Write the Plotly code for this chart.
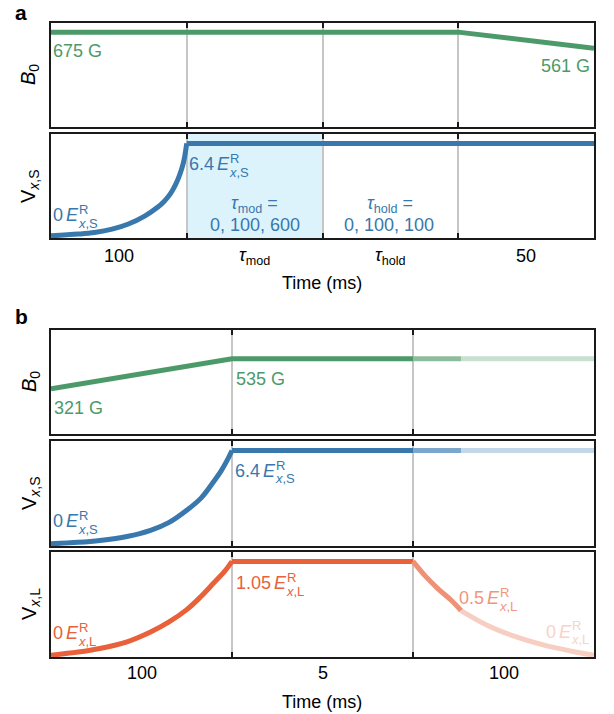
import plotly.graph_objects as go

# ---------------- data ----------------
a_seg_labels = ["100", "<i>τ</i><sub>mod</sub>", "<i>τ</i><sub>hold</sub>", "50"]
b_seg_labels = ["100", "5", "100"]

# panel a
a_b0_x = [0, 1, 2, 3, 4]
a_b0_y = [675, 675, 675, 675, 561]
a_vs_rise_x = [0, 0.2, 0.32, 0.45, 0.57, 0.69, 0.79, 0.833, 0.86, 0.89, 0.92, 0.94, 0.96, 0.975, 0.985, 1.0]
a_vs_rise_y = [0, 0.12, 0.23, 0.46, 0.82, 1.37, 2.01, 2.38, 2.67, 3.07, 3.6, 4.03, 4.56, 5.05, 5.5, 6.4]
a_vs_hold_x = [1, 2, 3, 4]
a_vs_hold_y = [6.4, 6.4, 6.4, 6.4]

# panel b
b_b0_x = [0, 1, 2]
b_b0_y = [321, 535, 535]
b_b0_mid_x = [2, 2.265]
b_b0_mid_y = [535, 535]
b_b0_late_x = [2.265, 3]
b_b0_late_y = [535, 535]

b_vs_rise_x = [0, 0.15, 0.27, 0.42, 0.55, 0.65, 0.75, 0.83, 0.895, 0.94, 0.97, 1.0]
b_vs_rise_y = [0, 0.1, 0.23, 0.5, 0.92, 1.45, 2.3, 3.15, 4.2, 5.0, 5.65, 6.4]
b_vs_hold_x = [1, 2]
b_vs_hold_y = [6.4, 6.4]
b_vs_mid_x = [2, 2.265]
b_vs_mid_y = [6.4, 6.4]
b_vs_late_x = [2.265, 3]
b_vs_late_y = [6.4, 6.4]

b_vl_rise_x = [0, 0.15, 0.27, 0.42, 0.55, 0.65, 0.75, 0.83, 0.9, 0.96, 1.0]
b_vl_rise_y = [0, 0.035, 0.075, 0.15, 0.26, 0.37, 0.51, 0.66, 0.81, 0.94, 1.05]
b_vl_hold_x = [1, 2]
b_vl_hold_y = [1.05, 1.05]
b_vl_mid_x = [2, 2.066, 2.14, 2.214, 2.265]
b_vl_mid_y = [1.05, 0.89, 0.74, 0.61, 0.50]
b_vl_late_x = [2.265, 2.415, 2.563, 2.729, 2.876, 3.0]
b_vl_late_y = [0.50, 0.33, 0.21, 0.11, 0.045, 0.0]

# ---------------- style ----------------
W, H = 614, 714
FONT = "Liberation Sans, Arial, Helvetica, sans-serif"
GREEN, GREEN_M, GREEN_L = "#4c9a69", "#8dbd9c", "#c8e0cf"
BLUE, BLUE_M, BLUE_L = "#3878ad", "#7aa7cb", "#c2d7e8"
ORANGE, ORANGE_M, ORANGE_L = "#e8613a", "#ee9176", "#f7cfc2"
ORANGE_TXT_M, ORANGE_TXT_L = "#ef967b", "#f8d3c6"
SHADE = "#ddf3fc"
LW = 5

def py(p):
    return 1 - p / H

def px(p):
    return p / W

X0, X1 = 51, 594
boxes = {  # (top, bottom) pixel
    1: (23, 127),
    2: (134, 238),
    3: (330, 434),
    4: (441, 546),
    5: (552, 657),
}
yranges = {1: [0, 740], 2: [-0.15, 7.05], 3: [0, 740], 4: [-0.15, 7.05], 5: [-0.02, 1.155]}
xranges = {1: [0, 4], 2: [0, 4], 3: [0, 3], 4: [0, 3], 5: [0, 3]}

fig = go.Figure()

def add(i, x, y, color, curve=False):
    line = dict(color=color, width=LW)
    if curve:
        line.update(shape="spline", smoothing=1.0)
    fig.add_trace(go.Scatter(
        x=x, y=y, mode="lines", line=line,
        xaxis="x" if i == 1 else f"x{i}", yaxis="y" if i == 1 else f"y{i}",
        showlegend=False, hoverinfo="skip"))

add(1, a_b0_x, a_b0_y, GREEN)
add(2, a_vs_rise_x, a_vs_rise_y, BLUE, curve=True)
add(2, a_vs_hold_x, a_vs_hold_y, BLUE)

add(3, b_b0_x, b_b0_y, GREEN)
add(3, b_b0_late_x, b_b0_late_y, GREEN_L)
add(3, b_b0_mid_x, b_b0_mid_y, GREEN_M)

add(4, b_vs_rise_x, b_vs_rise_y, BLUE, curve=True)
add(4, b_vs_hold_x, b_vs_hold_y, BLUE)
add(4, b_vs_late_x, b_vs_late_y, BLUE_L)
add(4, b_vs_mid_x, b_vs_mid_y, BLUE_M)

add(5, b_vl_rise_x, b_vl_rise_y, ORANGE, curve=True)
add(5, b_vl_hold_x, b_vl_hold_y, ORANGE)
add(5, b_vl_late_x, b_vl_late_y, ORANGE_L, curve=True)
add(5, b_vl_mid_x, b_vl_mid_y, ORANGE_M, curve=True)

layout = dict(
    width=W, height=H, margin=dict(l=0, r=0, t=0, b=0),
    paper_bgcolor="white", plot_bgcolor="white",
    font=dict(family=FONT, size=18, color="black"),
    showlegend=False,
)
for i in range(1, 6):
    top, bot = boxes[i]
    xa = "xaxis" if i == 1 else f"xaxis{i}"
    ya = "yaxis" if i == 1 else f"yaxis{i}"
    nseg = xranges[i][1]
    layout[xa] = dict(
        domain=[px(X0), px(X1)], range=xranges[i], anchor="y" if i == 1 else f"y{i}",
        tickvals=list(range(1, nseg)), showticklabels=False,
        ticks="inside", ticklen=5, tickwidth=1.8, tickcolor="#1a1a1a",
        showgrid=True, gridcolor="#c6c6c6", gridwidth=1.6, zeroline=False,
        showline=True, linecolor="#1a1a1a", linewidth=2, mirror="ticks", fixedrange=True)
    layout[ya] = dict(
        domain=[py(bot), py(top)], range=yranges[i], anchor="x" if i == 1 else f"x{i}",
        showticklabels=False, ticks="", showgrid=False, zeroline=False,
        showline=True, linecolor="#1a1a1a", linewidth=2, mirror=True, fixedrange=True)
fig.update_layout(**layout)

# shading for tau_mod
fig.add_shape(type="rect", xref="x2", yref="y2 domain", x0=1, x1=2, y0=0, y1=1,
              fillcolor=SHADE, line=dict(width=0), layer="below")

ann = []

def text(xp, yp, s, color="black", size=18, xanchor="left", angle=0, bold=False):
    if bold:
        s = f"<b>{s}</b>"
    ann.append(dict(x=px(xp), y=py(yp), xref="paper", yref="paper", text=s, showarrow=False,
                    xanchor=xanchor, yanchor="middle", textangle=angle,
                    font=dict(family=FONT, size=size, color=color), borderpad=0, borderwidth=0))

ADV = {"0": .556, "1": .556, "2": .556, "3": .556, "4": .556, "5": .556, "6": .556,
       "7": .556, "8": .556, "9": .556, ".": .278, " ": .278}

def elabel(xp, yp, num, sub, color):
    wn = sum(ADV[c] for c in num) * 18
    text(xp, yp, num, color)
    xe = xp + wn + 2.5
    text(xe, yp, "<i>E</i>", color)
    text(xe + 13.5, yp - 6, "R", color, size=13)
    text(xe + 12.0, yp + 8, f"<i>x</i>,{sub}", color, size=13)

# panel a
text(53, 51, "675 G", GREEN)
text(590, 66, "561 G", GREEN, xanchor="right")
elabel(53, 215, "0", "S", BLUE)
elabel(189, 164, "6.4", "S", BLUE)
text(254, 204, "<i>τ</i><sub>mod</sub> =", BLUE, xanchor="center")
text(254.5, 225, "0, 100, 600", BLUE, xanchor="center")
text(390, 204, "<i>τ</i><sub>hold</sub> =", BLUE, xanchor="center")
text(389, 225, "0, 100, 100", BLUE, xanchor="center")

# panel b
text(54, 408, "321 G", GREEN)
text(236, 379, "535 G", GREEN)
elabel(53, 521, "0", "S", BLUE)
elabel(235, 471, "6.4", "S", BLUE)
elabel(53, 633, "0", "L", ORANGE)
elabel(236, 583, "1.05", "L", ORANGE)
elabel(459, 598, "0.5", "L", ORANGE_TXT_M)
elabel(546, 631.5, "0", "L", ORANGE_TXT_L)

# segment tick labels
segw_a = (X1 - X0) / 4
for k, s in enumerate(a_seg_labels):
    text(X0 + segw_a * (k + 0.5), 256, s, xanchor="center")
segw_b = (X1 - X0) / 3
for k, s in enumerate(b_seg_labels):
    text(X0 + segw_b * (k + 0.5), 673, s, xanchor="center")
text(322, 283, "Time (ms)", xanchor="center")
text(322, 702, "Time (ms)", xanchor="center")

# axis titles
text(30, 75, "<i>B</i><sub>0</sub>", size=20, xanchor="center", angle=-90)
text(30, 186, "V<sub><i>x</i>,S</sub>", size=20, xanchor="center", angle=-90)
text(30, 382, "<i>B</i><sub>0</sub>", size=20, xanchor="center", angle=-90)
text(30, 493, "V<sub><i>x</i>,S</sub>", size=20, xanchor="center", angle=-90)
text(30, 604, "V<sub><i>x</i>,L</sub>", size=20, xanchor="center", angle=-90)

# panel letters
text(21, 12, "a", size=21, xanchor="center", bold=True)
text(21.5, 316, "b", size=21, xanchor="center", bold=True)

fig.update_layout(annotations=ann)
fig.write_html("out.html")
